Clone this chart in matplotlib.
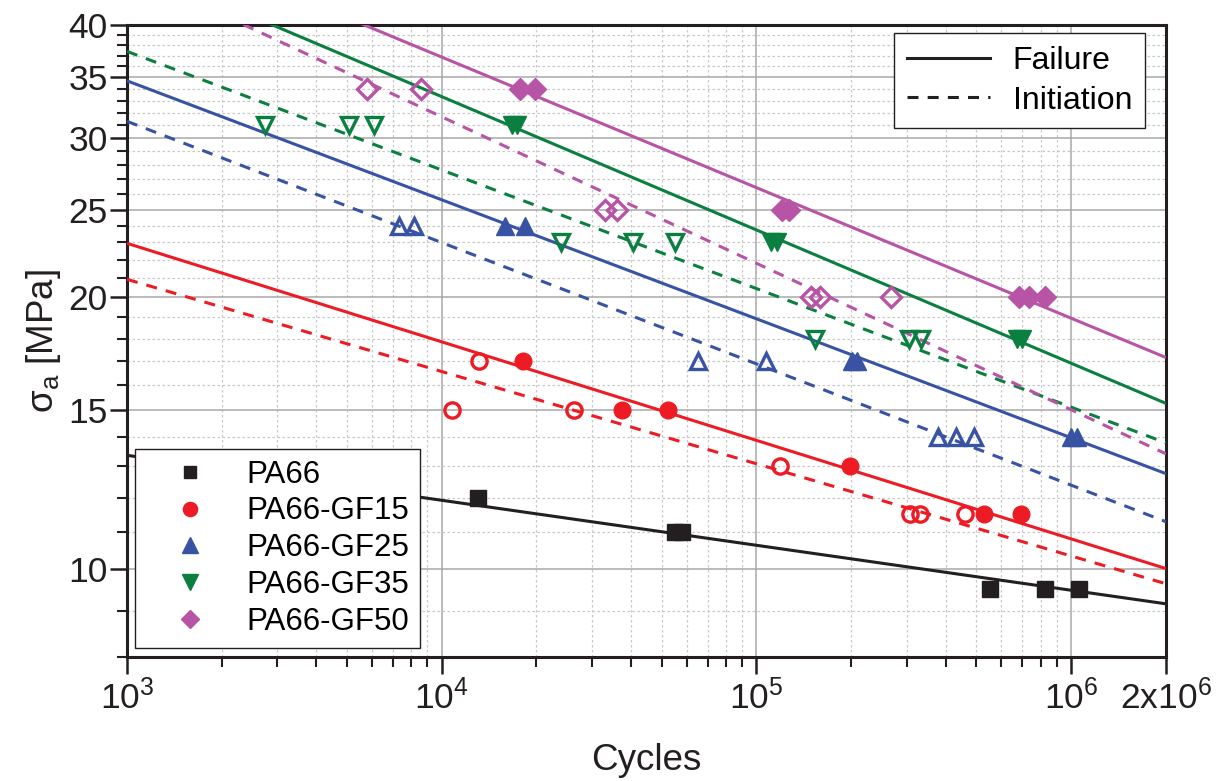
import numpy as np
import matplotlib
matplotlib.use("Agg")
import matplotlib.pyplot as plt
from matplotlib.ticker import FixedLocator, NullFormatter
from matplotlib.lines import Line2D

plt.rcParams['font.family'] = ['Liberation Sans', 'DejaVu Sans']
plt.rcParams['mathtext.fontset'] = 'custom'
plt.rcParams['mathtext.rm'] = 'Liberation Sans'
plt.rcParams['mathtext.it'] = 'Liberation Sans:italic'

# ---------------- data ----------------
series = ["PA66", "PA66-GF15", "PA66-GF25", "PA66-GF35", "PA66-GF50"]
colors = ["#231F20", "#ED1C24", "#3953A4", "#0A7F3F", "#B854A6"]
markers = ["s", "o", "^", "v", "D"]

# failure (filled markers)
fail_N = {
    "PA66": [13000, 55300, 58000, 553000, 826000, 1060000],
    "PA66-GF15": [18100, 37300, 52200, 198700, 529000, 694000],
    "PA66-GF25": [15850, 18350, 201700, 209000, 1000000, 1045000],
    "PA66-GF35": [16700, 17300, 111000, 116000, 675000, 700000],
    "PA66-GF50": [17680, 19730, 120900, 127300, 683800, 735600, 827000],
}
fail_S = {
    "PA66": [12, 11, 11, 9.5, 9.5, 9.5],
    "PA66-GF15": [17, 15, 15, 13, 11.5, 11.5],
    "PA66-GF25": [24, 24, 17, 17, 14, 14],
    "PA66-GF35": [31, 31, 23, 23, 18, 18],
    "PA66-GF50": [34, 34, 25, 25, 20, 20, 20],
}
# initiation (open markers)
init_N = {
    "PA66": [],
    "PA66-GF15": [13100, 10760, 26240, 119000, 308000, 332000, 461000],
    "PA66-GF25": [7300, 8150, 65400, 107600, 378000, 431000, 492000],
    "PA66-GF35": [2742, 5070, 6085, 23870, 40400, 54900, 153000, 306000, 333000],
    "PA66-GF50": [5780, 8580, 32920, 35940, 149500, 159700, 268300],
}
init_S = {
    "PA66": [],
    "PA66-GF15": [17, 15, 15, 13, 11.5, 11.5, 11.5],
    "PA66-GF25": [24, 24, 17, 17, 14, 14, 14],
    "PA66-GF35": [31, 31, 31, 23, 23, 23, 18, 18, 18],
    "PA66-GF50": [34, 34, 25, 25, 20, 20, 20],
}
# fitted lines: stress at N = 1e3 and N = 2e6
line_N = [1e3, 2e6]
fail_line_S = {
    "PA66": [13.37, 9.16],
    "PA66-GF15": [22.94, 10.02],
    "PA66-GF25": [34.7, 12.76],
    "PA66-GF35": [46.8, 15.26],
    "PA66-GF50": [51.4, 17.15],
}
init_line_S = {
    "PA66-GF15": [20.93, 9.64],
    "PA66-GF25": [31.3, 11.29],
    "PA66-GF35": [37.4, 13.8],
    "PA66-GF50": [45.97, 13.42],
}

x_ticks = [1e3, 1e4, 1e5, 1e6, 2e6]
x_ticklabels = [r"$\mathregular{10^{3}}$", r"$\mathregular{10^{4}}$", r"$\mathregular{10^{5}}$",
                r"$\mathregular{10^{6}}$", r"$\mathregular{2x10^{6}}$"]
y_ticks = [10, 15, 20, 25, 30, 35, 40]

# ---------------- plot ----------------
fig = plt.figure(figsize=(12.2, 7.81), dpi=100)
ax = fig.add_axes([0.1041, 0.1588, 0.8516, 0.8092])
ax.set_xscale("log")
ax.set_yscale("log")
ax.set_xlim(1e3, 2e6)
ax.set_ylim(8, 40)

lw = 2.2
for name, col, mk in zip(series, colors, markers):
    ax.plot(line_N, fail_line_S[name], color=col, lw=lw, solid_capstyle="butt", zorder=3)
    if name in init_line_S:
        ax.plot(line_N, init_line_S[name], color=col, lw=lw, ls=(0, (3.6, 3.0)), zorder=3)

msize = {"s": 11, "o": 12, "^": 13, "v": 13, "D": 11}
for name, col, mk in zip(series, colors, markers):
    ax.plot(fail_N[name], fail_S[name], ls="none", marker=mk, ms=msize[mk],
            mfc=col, mec=col, mew=1, zorder=5)
    if init_N[name]:
        ax.plot(init_N[name], init_S[name], ls="none", marker=mk, ms=msize[mk] - 1,
                mfc="none", mec=col, mew=2.4, zorder=5)

# ticks
ax.xaxis.set_major_locator(FixedLocator(x_ticks))
ax.set_xticklabels(x_ticklabels)
minor_x = [m * 10 ** e for e in range(3, 7) for m in range(2, 10) if m * 10 ** e < 2e6]
ax.xaxis.set_minor_locator(FixedLocator(minor_x))
ax.xaxis.set_minor_formatter(NullFormatter())

ax.yaxis.set_major_locator(FixedLocator(y_ticks))
ax.set_yticklabels([str(v) for v in y_ticks])
minor_y = [v for v in range(8, 41) if v not in y_ticks]
ax.yaxis.set_minor_locator(FixedLocator(minor_y))
ax.yaxis.set_minor_formatter(NullFormatter())

ax.tick_params(which="major", direction="out", length=12, width=1.8, labelsize=25.5,
               pad=2, color="#231F20", labelcolor="#231F20")
ax.tick_params(which="minor", direction="out", length=7, width=1.5, color="#231F20")
ax.tick_params(axis="x", which="major", pad=4)

ax.grid(which="major", color="#A8A8A8", lw=1.1, ls="-", zorder=0)
ax.grid(which="minor", color="#C8C8C8", lw=0.9, ls=(0, (2, 2)), zorder=0)
ax.set_axisbelow(True)

for sp in ax.spines.values():
    sp.set_linewidth(2.2)
    sp.set_color("#231F20")

ax.set_xlabel("Cycles", fontsize=26.5, labelpad=20, color="#231F20")
ax.set_ylabel(r"σ$_\mathregular{a}$ [MPa]", fontsize=26.5, labelpad=4, color="#231F20")

# legend: line styles
h1 = [Line2D([], [], color="#231F20", lw=2.2),
      Line2D([], [], color="#231F20", lw=2.2, ls=(0, (3.6, 3.0)))]
leg1 = ax.legend(h1, ["Failure", "Initiation"], loc="upper right",
                 bbox_to_anchor=(0.9798, 0.987), fontsize=23, frameon=True,
                 fancybox=False, edgecolor="#231F20", framealpha=1,
                 handlelength=2.6, handletextpad=0.7, borderpad=0.4,
                 labelspacing=0.3, borderaxespad=0)
leg1.get_frame().set_linewidth(1.0)
ax.add_artist(leg1)

# legend: materials
h2 = [Line2D([], [], ls="none", marker=mk, ms=msize[mk] * 0.85, mfc=col, mec=col)
      for col, mk in zip(colors, markers)]
leg2 = ax.legend(h2, series, loc="lower left", bbox_to_anchor=(0.0077, 0.0142),
                 fontsize=22.5, frameon=True, fancybox=False, edgecolor="#231F20",
                 framealpha=1, handlelength=2.8, handletextpad=0.4, borderpad=0.35,
                 labelspacing=0.22, borderaxespad=0)
leg2.get_frame().set_linewidth(1.0)

fig.savefig("out.png", dpi=100)
